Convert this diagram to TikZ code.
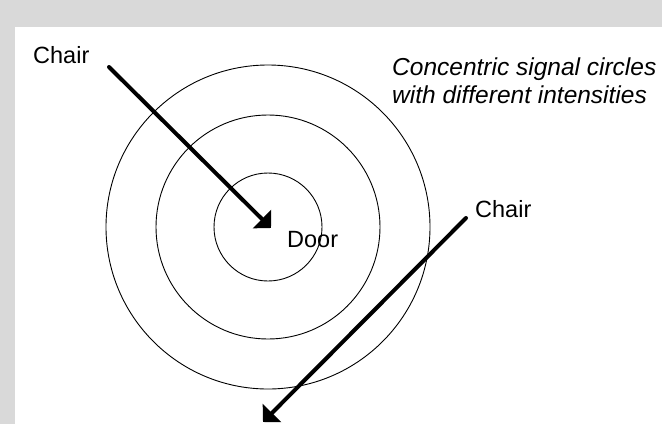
\documentclass[tikz,border=0pt]{standalone}
\usepackage{fontspec}
\setmainfont{Liberation Sans}
\usetikzlibrary{arrows.meta}
\begin{document}
\begin{tikzpicture}[x=1pt,y=-1pt,
  lbl/.style={inner sep=0pt,anchor=base west,font=\fontsize{23.5}{28}\selectfont},
  note/.style={inner sep=0pt,anchor=base west,font=\fontsize{24.5}{28}\selectfont\itshape},
  ring/.style={circle,draw=black,line width=0.9pt,inner sep=0pt},
  bigarrow/.style={line width=4pt,line cap=round,-{Triangle[angle=90:18pt]}}]
\useasboundingbox (0,0) rectangle (662,424);
\fill[black!15] (0,0) rectangle (662,424);
\fill[white] (15,27) rectangle (662,424);
% circles
\coordinate (ctr) at (268,227);
\node[ring,minimum size=108pt] (c1) at (ctr) {};
\node[ring,minimum size=224pt] (c2) at (ctr) {};
\node[ring,minimum size=324pt] (c3) at (ctr) {};
% labels
\node[lbl] (chair1) at (33,63) {Chair};
\node[lbl] (chair2) at (475,217) {Chair};
\node[lbl] (door) at (287,247) {Door};
\node[note] (note1) at (392,75) {Concentric signal circles};
\node[note] (note2) at (392,103) {with different intensities};
% arrows
\coordinate (a1s) at (109,67);
\coordinate (a1e) at (271,228);
\coordinate (a2s) at (466,218);
\coordinate (a2e) at (263,422);
\draw[bigarrow] (a1s) -- (a1e);
\draw[bigarrow] (a2s) -- (a2e);
\end{tikzpicture}
\end{document}
